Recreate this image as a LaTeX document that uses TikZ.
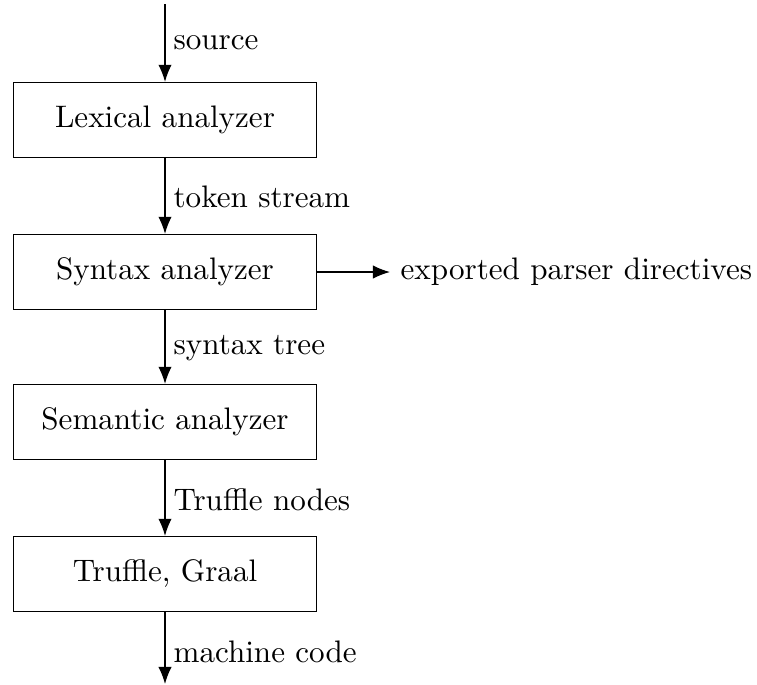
\documentclass[tikz,border=0pt]{standalone}
\usetikzlibrary{arrows.meta}
\begin{document}
\begin{tikzpicture}[x=0.3215pt,y=-0.3215pt,
  stage/.style={draw,line width=0.4pt,minimum width=303*0.3215pt,minimum height=75*0.3215pt,inner sep=0pt},
  flow/.style={-{Latex[length=5.5pt,width=4.3pt]},line width=0.4pt},
  lbl/.style={anchor=west,inner sep=0pt}]
\useasboundingbox (0,0) rectangle (757,684);
\node[stage] (lex) at (165,120) {Lexical analyzer};
\node[stage] (syn) at (165,272) {Syntax analyzer};
\node[stage] (sem) at (165,422) {Semantic analyzer};
\node[stage] (tg) at (165,574) {Truffle, Graal};
\coordinate (in) at (165,4);
\coordinate (out) at (165,684);
\coordinate (exp) at (390,272);
\node[lbl] (exptext) at (400,272) {exported parser directives};
\draw[flow] (in) -- (lex.north);
\draw[flow] (lex.south) -- (syn.north);
\draw[flow] (syn.south) -- (sem.north);
\draw[flow] (sem.south) -- (tg.north);
\draw[flow] (tg.south) -- (out);
\draw[flow] (syn.east) -- (exp);
\node[lbl] (l1) at (173,43) {source};
\node[lbl] (l2) at (173,197) {token stream};
\node[lbl] (l3) at (173,348) {syntax tree};
\node[lbl] (l4) at (173,500) {Truffle nodes};
\node[lbl] (l5) at (173,652) {machine code};
\end{tikzpicture}
\end{document}
